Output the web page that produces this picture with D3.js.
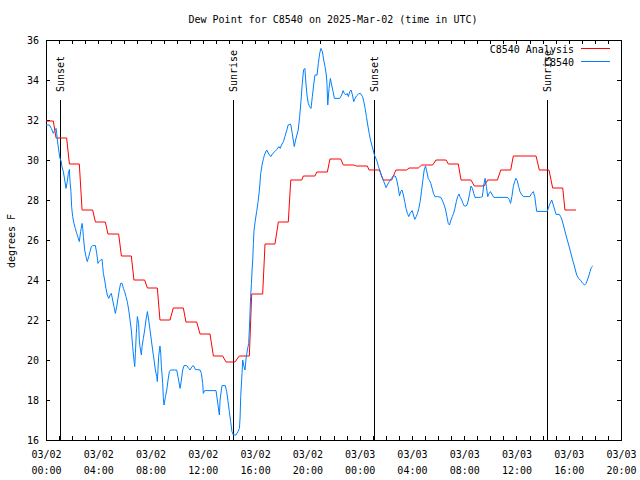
<!DOCTYPE html>
<html><head><meta charset="utf-8">
<script src="https://cdn.jsdelivr.net/npm/d3@7"></script>
<style>
html,body{margin:0;padding:0;background:#fff;}
svg{display:block;}
text{font-family:"DejaVu Sans Mono",monospace;font-size:10px;fill:#000;}
</style></head>
<body>
<svg id="chart" width="640" height="480"></svg>
<script>
// ---- data (hours since 2025-03-02 00:00 UTC, degrees F) ----
const startUTC = Date.UTC(2025, 2, 2, 0, 0);
const endUTC = Date.UTC(2025, 2, 3, 20, 0);
const yTicks = [16, 18, 20, 22, 24, 26, 28, 30, 32, 34, 36];
const xLabelHours = [0, 4, 8, 12, 16, 20, 24, 28, 32, 36, 40, 44];
const seriesNames = ["C8540 Analysis", "C8540"];
const seriesColors = ["#ff0000", "#0080ff"];
const sunEvents = [
  {h: 1.09, label: "Sunset"},
  {h: 14.33, label: "Sunrise"},
  {h: 25.12, label: "Sunset"},
  {h: 38.36, label: "Sunrise"}
];
const analysis = [
[0,31.95],[0.56,31.95],[0.77,31.1],[1.58,31.1],[1.79,29.8],[2.55,29.8],[2.76,27.5],[3.57,27.5],
[3.78,26.9],[4.54,26.9],[4.74,26.3],[5.56,26.3],[5.77,25.2],[6.53,25.2],[6.73,24.0],[7.55,24.0],
[7.76,23.6],[8.52,23.6],[8.72,22.0],[9.49,22.0],[9.74,22.6],[10.51,22.6],[10.71,21.9],[11.53,21.9],
[11.79,21.3],[12.55,21.3],[12.81,20.2],[13.52,20.2],[13.78,19.9],[14.46,19.9],[14.79,20.2],[15.56,20.2],
[15.74,23.3],[16.58,23.3],[16.76,25.8],[17.52,25.8],[17.78,26.9],[18.54,26.9],[18.73,29.0],[19.57,29.0],
[19.69,29.2],[20.58,29.2],[20.72,29.4],[21.53,29.4],[21.73,30.05],[22.55,30.05],[22.75,29.75],[23.55,29.75],
[23.75,29.7],[24.59,29.7],[24.72,29.5],[25.51,29.5],[25.81,29.0],[26.45,29.0],[26.78,29.5],[27.6,29.5],
[27.78,29.6],[28.49,29.6],[28.75,29.75],[29.59,29.75],[29.84,30.0],[30.61,30.0],[30.79,29.8],[31.55,29.8],
[31.76,29.0],[32.52,29.0],[32.78,28.7],[33.52,28.7],[33.8,29.0],[34.54,29.0],[34.8,29.5],[35.56,29.5],
[35.76,30.2],[37.5,30.2],[37.75,29.5],[38.49,29.5],[38.77,28.6],[39.54,28.6],[39.71,27.5],[40.56,27.5]
];
const observed = [
[0,31.75],[0.26,31.75],[0.41,31.58],[0.56,31.33],[0.66,31.47],[0.77,31.58],[0.82,31.33],[0.87,31.0],
[0.97,30.5],[1.07,30.08],[1.17,29.92],[1.22,29.67],[1.33,29.42],[1.43,29.0],[1.53,28.58],[1.63,28.92],
[1.71,29.33],[1.79,29.53],[1.84,28.92],[1.91,28.42],[1.96,27.67],[2.04,27.17],[2.14,26.83],[2.24,26.58],
[2.35,26.33],[2.45,26.13],[2.55,25.92],[2.65,26.42],[2.76,26.83],[2.81,26.58],[2.86,26.17],[2.96,25.5],
[3.06,25.17],[3.16,24.92],[3.27,25.17],[3.37,25.42],[3.47,25.67],[3.57,25.72],[3.78,25.72],[3.88,25.33],
[3.98,24.83],[4.06,24.92],[4.18,25.0],[4.29,25.03],[4.34,24.67],[4.39,24.33],[4.49,24.0],[4.59,23.58],
[4.69,23.25],[4.80,23.08],[4.90,23.25],[5.0,23.33],[5.10,23.0],[5.2,22.67],[5.31,22.33],[5.41,22.67],
[5.51,23.08],[5.61,23.5],[5.71,23.83],[5.82,23.83],[5.92,23.58],[6.02,23.42],[6.12,23.17],[6.22,22.92],
[6.33,22.5],[6.43,22.0],[6.53,21.5],[6.63,20.67],[6.73,20.0],[6.79,19.67],[6.84,20.33],[6.91,21.33],
[6.99,22.17],[7.09,21.83],[7.14,21.0],[7.19,20.67],[7.30,20.25],[7.35,20.67],[7.45,21.08],[7.55,21.5],
[7.65,22.0],[7.76,22.42],[7.86,22.0],[7.96,21.5],[8.06,21.0],[8.16,20.5],[8.27,20.0],[8.37,19.5],
[8.47,19.17],[8.52,18.92],[8.62,20.17],[8.72,20.7],[8.78,20.33],[8.83,19.67],[8.93,18.83],[8.98,18.08],
[9.03,17.75],[9.14,18.17],[9.24,18.5],[9.34,19.0],[9.44,19.42],[9.54,19.5],[10.0,19.5],[10.1,19.17],
[10.26,18.58],[10.36,19.0],[10.46,19.5],[10.56,19.72],[10.77,19.72],[10.92,19.58],[11.02,19.5],[11.17,19.67],
[11.28,19.72],[11.43,19.53],[11.79,19.5],[11.89,19.33],[11.99,18.83],[12.04,18.33],[12.14,18.47],[13.01,18.47],
[13.11,18.0],[13.21,17.5],[13.27,17.25],[13.32,18.0],[13.42,18.5],[13.47,18.72],[13.72,18.72],[13.83,18.42],
[13.93,17.92],[14.03,17.42],[14.13,16.92],[14.23,16.42],[14.34,16.25],[14.54,16.25],[14.69,16.42],[14.80,16.58],
[14.85,17.1],[14.90,18.17],[15.0,19.33],[15.05,20.0],[15.15,19.67],[15.23,19.5],[15.31,20.08],[15.41,20.5],
[15.51,20.83],[15.56,21.5],[15.61,22.33],[15.66,23.17],[15.72,23.83],[15.77,24.5],[15.82,25.0],[15.87,25.83],
[15.92,26.5],[16.02,27.0],[16.12,27.42],[16.23,27.92],[16.33,28.5],[16.43,29.33],[16.53,29.75],[16.64,30.08],
[16.74,30.3],[16.89,30.5],[17.05,30.3],[17.2,30.17],[17.36,30.33],[17.51,30.42],[17.66,30.53],[17.82,30.67],
[17.92,30.58],[18.02,30.75],[18.17,30.92],[18.28,31.17],[18.43,31.5],[18.53,31.75],[18.69,31.8],[18.74,31.75],
[18.84,31.33],[19.0,30.67],[19.1,31.0],[19.2,31.25],[19.3,31.5],[19.41,32.17],[19.51,32.92],[19.61,33.83],
[19.71,34.5],[19.81,34.58],[19.87,34.0],[19.97,33.25],[20.07,32.83],[20.17,32.67],[20.28,32.58],[20.38,33.17],
[20.48,33.75],[20.58,34.25],[20.74,34.25],[20.84,34.83],[20.94,35.33],[21.04,35.58],[21.15,35.42],[21.25,35.0],
[21.35,34.67],[21.45,34.25],[21.5,33.83],[21.56,32.75],[21.66,33.58],[21.76,34.08],[21.86,33.75],[21.97,33.42],
[22.07,33.08],[22.48,33.08],[22.63,33.25],[22.73,33.47],[22.83,33.33],[22.94,33.25],[23.04,33.33],[23.14,33.17],
[23.24,33.42],[23.34,33.5],[23.45,33.25],[23.55,32.92],[23.65,33.08],[23.75,33.2],[23.91,33.3],[24.06,33.33],
[24.22,33.17],[24.32,32.92],[24.42,32.58],[24.52,32.17],[24.62,31.75],[24.73,31.33],[24.83,31.0],[24.93,30.75],
[25.03,30.5],[25.13,30.25],[25.24,30.08],[25.34,29.92],[25.44,29.67],[25.54,29.5],[25.65,29.25],[25.75,29.08],
[25.85,28.92],[25.95,28.75],[26.02,28.62],[26.12,28.75],[26.27,28.92],[26.43,29.08],[26.58,29.2],[26.73,29.2],
[26.84,29.0],[26.94,28.67],[27.05,28.2],[27.14,28.42],[27.24,28.5],[27.35,28.25],[27.45,27.92],[27.55,27.58],
[27.66,27.33],[27.76,27.17],[27.86,27.33],[28.02,27.47],[28.12,27.25],[28.22,27.03],[28.33,27.17],[28.43,27.33],
[28.53,27.58],[28.63,27.92],[28.73,28.42],[28.84,29.0],[28.94,29.5],[29.04,29.7],[29.14,29.42],[29.25,29.08],
[29.35,28.97],[29.45,28.83],[29.55,28.58],[29.65,28.33],[29.76,28.17],[29.96,28.17],[30.22,28.13],[30.37,27.92],
[30.47,27.75],[30.58,27.5],[30.68,27.17],[30.78,26.83],[30.88,26.75],[30.99,27.0],[31.09,27.17],[31.19,27.33],
[31.29,27.58],[31.4,27.92],[31.5,28.17],[31.6,28.3],[31.7,28.13],[31.81,28.0],[31.91,27.83],[32.01,27.7],
[32.12,27.7],[32.22,27.75],[32.32,28.0],[32.42,28.33],[32.52,28.7],[32.63,28.58],[32.73,28.33],[32.83,28.13],
[33.24,28.13],[33.39,28.17],[33.5,28.75],[33.6,29.08],[33.7,28.67],[33.8,28.17],[33.91,28.33],[34.01,28.42],
[34.11,28.3],[34.27,28.13],[35.29,28.13],[35.45,28.03],[35.55,27.83],[35.65,28.17],[35.76,28.67],[35.86,28.92],
[35.96,29.08],[36.06,28.97],[36.17,28.67],[36.27,28.42],[36.37,28.3],[36.53,28.17],[37.03,28.17],[37.16,28.33],
[37.29,28.42],[37.4,28.17],[37.5,27.67],[37.55,27.43],[38.36,27.43],[38.52,27.75],[38.7,28.0],[38.82,27.75],
[38.93,27.5],[39.03,27.28],[39.28,27.28],[39.38,27.17],[39.49,27.0],[39.59,26.75],[39.69,26.5],[39.79,26.25],
[39.89,26.0],[40.0,25.75],[40.1,25.5],[40.2,25.25],[40.3,25.0],[40.41,24.75],[40.51,24.5],[40.61,24.25],
[40.76,24.08],[40.92,23.97],[41.07,23.83],[41.22,23.75],[41.33,23.83],[41.43,24.0],[41.53,24.2],[41.63,24.42],
[41.73,24.63],[41.84,24.7]
];

// ---- layout ----
const L = 46, R = 621, T = 40, B = 440;
const toDate = h => new Date(startUTC + h * 3600e3);
const x = d3.scaleUtc().domain([new Date(startUTC), new Date(endUTC)]).range([L, R]);
const y = d3.scaleLinear().domain([16, 36]).range([B, T]);

const svg = d3.select("#chart");

// title
svg.append("text").attr("x", 333).attr("y", 23).attr("text-anchor", "middle")
  .text("Dew Point for C8540 on 2025-Mar-02 (time in UTC)");

// y label
svg.append("text").attr("transform", "translate(15,241) rotate(-90)")
  .attr("text-anchor", "middle").text("degrees F");

const hourTicks = d3.utcHour.every(1).range(new Date(startUTC), new Date(endUTC + 1));

// bottom ticks (inward)
svg.append("g").attr("transform", `translate(0,${B})`)
  .call(d3.axisBottom(x).tickValues(hourTicks).tickSize(-4).tickSizeOuter(0).tickFormat(""))
  .call(g => g.select(".domain").remove());
// top ticks
svg.append("g").attr("transform", `translate(0,${T})`)
  .call(d3.axisTop(x).tickValues(hourTicks).tickSize(-4).tickSizeOuter(0).tickFormat(""))
  .call(g => g.select(".domain").remove());
// bottom labels
const fmtD = d3.utcFormat("%m/%d"), fmtT = d3.utcFormat("%H:%M");
const xl = svg.append("g").attr("transform", `translate(0,${B})`)
  .call(d3.axisBottom(x).tickValues(xLabelHours.map(toDate)).tickSize(0).tickFormat(""))
  .call(g => g.select(".domain").remove());
xl.selectAll(".tick").each(function(d) {
  const t = d3.select(this).select("text").attr("y", 0).attr("dy", null)
    .attr("font-family", null).attr("font-size", null);
  t.append("tspan").attr("x", 0).attr("y", 18).text(fmtD(d));
  t.append("tspan").attr("x", 0).attr("y", 34).text(fmtT(d));
});
// left ticks & labels
svg.append("g").attr("transform", `translate(${L},0)`)
  .call(d3.axisLeft(y).tickValues(yTicks).tickSize(-4).tickSizeOuter(0).tickPadding(7).tickFormat(d3.format("d")))
  .call(g => g.select(".domain").remove())
  .call(g => g.selectAll("text").attr("font-family", null).attr("font-size", null).attr("dy", "0.34em"));
// right ticks
svg.append("g").attr("transform", `translate(${R},0)`)
  .call(d3.axisRight(y).tickValues(yTicks).tickSize(-4).tickSizeOuter(0).tickFormat(""))
  .call(g => g.select(".domain").remove());
svg.selectAll(".tick line").attr("stroke", "#000").attr("shape-rendering", "crispEdges");

// frame
svg.append("rect").attr("x", L + 0.5).attr("y", T + 0.5).attr("width", R - L).attr("height", B - T)
  .attr("fill", "none").attr("stroke", "#000").attr("shape-rendering", "crispEdges");

// sun event lines
const sun = svg.append("g");
sunEvents.forEach(e => {
  const sx = Math.round(x(toDate(e.h))) + 0.5;
  sun.append("line").attr("x1", sx).attr("x2", sx).attr("y1", y(33)).attr("y2", y(16))
    .attr("stroke", "#000").attr("shape-rendering", "crispEdges");
  sun.append("text").attr("transform", `translate(${sx + 3.5},${y(33.4)}) rotate(-90)`)
    .attr("text-anchor", "start").text(e.label);
});

// legend
const legY = [49, 62];
seriesNames.forEach((n, i) => {
  svg.append("text").attr("x", 574).attr("y", legY[i] + 4).attr("text-anchor", "end").text(n);
  svg.append("line").attr("x1", 581).attr("x2", 610).attr("y1", legY[i] - 0.5).attr("y2", legY[i] - 0.5)
    .attr("stroke", seriesColors[i]).attr("shape-rendering", "crispEdges");
});

// series
const line = d3.line().x(d => x(toDate(d[0]))).y(d => y(d[1]));
svg.append("path").datum(analysis).attr("d", line).attr("fill", "none")
  .attr("stroke", seriesColors[0]).attr("stroke-width", 1);
svg.append("path").datum(observed).attr("d", line).attr("fill", "none")
  .attr("stroke", seriesColors[1]).attr("stroke-width", 1);
</script>
</body></html>
